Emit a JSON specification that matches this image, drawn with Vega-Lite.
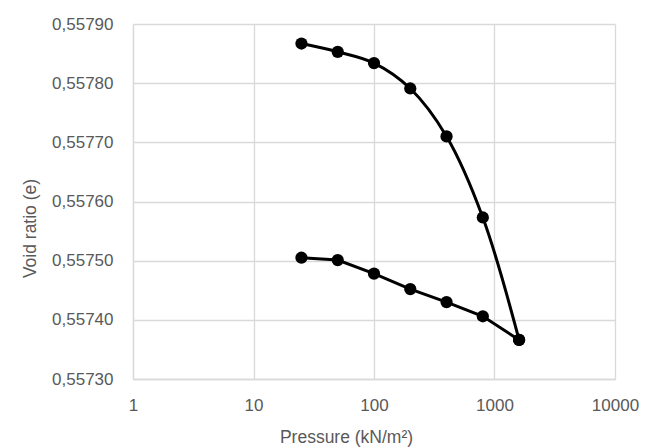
{
  "$schema": "https://vega.github.io/schema/vega-lite/v6.json",
  "width": 482,
  "height": 355,
  "autosize": "none",
  "padding": {"left": 133, "top": 24, "right": 38, "bottom": 68},
  "background": "white",
  "config": {
    "locale": {"number": {"decimal": ",", "thousands": ".", "grouping": [3], "currency": ["", " €"]}},
    "view": {"stroke": null},
    "font": "Liberation Sans",
    "axis": {
      "labelFont": "Liberation Sans",
      "titleFont": "Liberation Sans",
      "labelFontSize": 17,
      "titleFontSize": 17.5,
      "labelColor": "#595959",
      "titleColor": "#595959",
      "titleFontWeight": "normal",
      "gridColor": "#d9d9d9",
      "gridWidth": 1.3,
      "domainColor": "#d9d9d9",
      "domainWidth": 1.3,
      "ticks": false
    }
  },
  "data": {
    "values": [
      {"p": 25, "e": 0.557867, "s": "load", "o": 1},
      {"p": 50, "e": 0.557853, "s": "load", "o": 2},
      {"p": 100, "e": 0.557834, "s": "load", "o": 3},
      {"p": 200, "e": 0.557791, "s": "load", "o": 4},
      {"p": 400, "e": 0.557710, "s": "load", "o": 5},
      {"p": 800, "e": 0.557573, "s": "load", "o": 6},
      {"p": 1600, "e": 0.557366, "s": "load", "o": 7},
      {"p": 1600, "e": 0.557366, "s": "unload", "o": 8},
      {"p": 800, "e": 0.557406, "s": "unload", "o": 9},
      {"p": 400, "e": 0.557430, "s": "unload", "o": 10},
      {"p": 200, "e": 0.557452, "s": "unload", "o": 11},
      {"p": 100, "e": 0.557478, "s": "unload", "o": 12},
      {"p": 50, "e": 0.557501, "s": "unload", "o": 13},
      {"p": 25, "e": 0.557505, "s": "unload", "o": 14}
    ]
  },
  "encoding": {
    "x": {
      "field": "p",
      "type": "quantitative",
      "scale": {"type": "log", "domain": [1, 10000], "nice": false},
      "axis": {
        "title": "Pressure (kN/m²)",
        "values": [1, 10, 100, 1000, 10000],
        "format": "d",
        "labelPadding": 18,
        "labelFlush": false,
        "titleX": 213,
        "titleY": 58,
        "titleAnchor": null,
        "titleAlign": "center",
        "titleBaseline": "middle"
      }
    },
    "y": {
      "field": "e",
      "type": "quantitative",
      "scale": {"domain": [0.5573, 0.5579], "nice": false, "zero": false},
      "axis": {
        "title": "Void ratio (e)",
        "values": [0.5573, 0.5574, 0.5575, 0.5576, 0.5577, 0.5578, 0.5579],
        "format": ".5f",
        "labelPadding": 20,
        "titleX": -103,
        "titleY": 204,
        "titleAngle": -90,
        "titleAlign": "center",
        "titleBaseline": "middle"
      }
    }
  },
  "layer": [
    {
      "transform": [{"filter": "datum.s === 'load'"}],
      "mark": {"type": "line", "color": "black", "strokeWidth": 3, "interpolate": "catmull-rom"},
      "encoding": {"order": {"field": "o"}}
    },
    {
      "transform": [{"filter": "datum.s === 'unload'"}],
      "mark": {"type": "line", "color": "black", "strokeWidth": 3},
      "encoding": {"order": {"field": "o"}}
    },
    {
      "mark": {"type": "point", "filled": true, "color": "black", "opacity": 1, "size": 150}
    }
  ]
}
